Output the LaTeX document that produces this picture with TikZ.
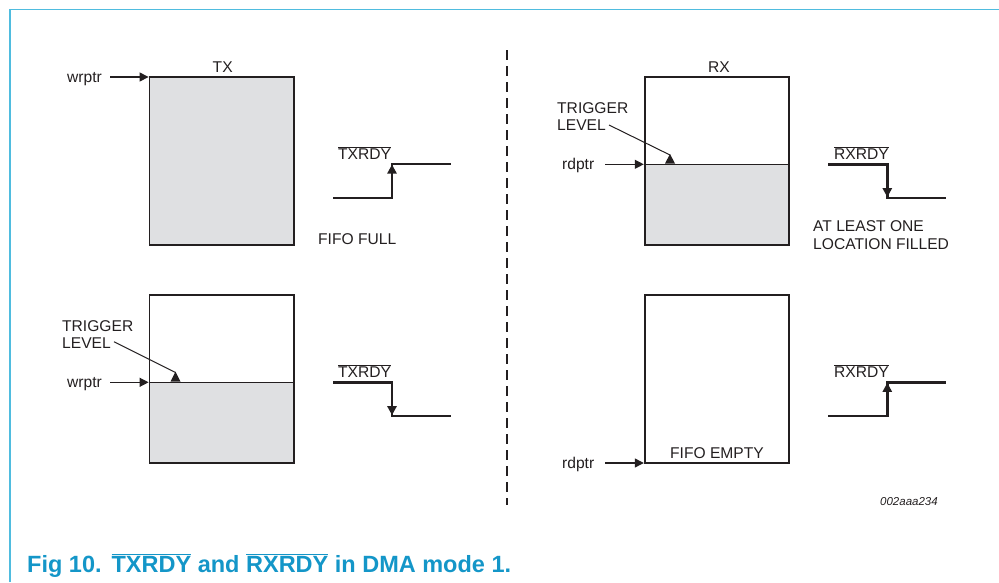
\documentclass[tikz,border=0pt]{standalone}
\usepackage{fontspec}
\setmainfont{Liberation Sans}
\usetikzlibrary{arrows.meta}
\definecolor{fifogray}{HTML}{DFE0E2}
\definecolor{frameblue}{HTML}{4FBCDF}
\definecolor{titleblue}{HTML}{1496C8}
\definecolor{ink}{HTML}{231F20}
\newcommand{\ovl}[1]{\ensuremath{\overline{\mbox{#1}}}}
\begin{document}
\begin{tikzpicture}[x=1pt,y=-1pt,
  lbl/.style={inner sep=0pt, font=\fontsize{15.6}{17}\selectfont, text=ink, anchor=base west},
  clbl/.style={inner sep=0pt, font=\fontsize{15.6}{17}\selectfont, text=ink, anchor=base},
  fifobox/.style={draw=ink, line width=1.8pt, inner sep=0pt, outer sep=0pt, minimum width=144.5pt, minimum height=168pt},
  divider/.style={draw=ink, line width=1.5pt},
  ptr/.style={draw=ink, line width=1.2pt, -{Triangle[length=9pt,width=9pt]}},
  sig/.style={draw=ink, line width=2.4pt, line cap=rect},
  sigarr/.style={draw=ink, line width=2.4pt, -{Triangle[length=9pt,width=9pt]}},
  lead/.style={draw=ink, line width=1pt},
  trig/.style={fill=ink},
]
\useasboundingbox (0,0) rectangle (999,582);
% frame
\draw[frameblue, line width=1.6pt] (10,582) -- (10,9.5) -- (999,9.5);

% ---------------- TX top (FIFO full)
\node[fifobox, fill=fifogray] (txa) at (221.75,161) {};
\node[clbl] (txlbl) at (222.7,72) {TX};
\node[lbl] (wpa) at (67,82) {wrptr};
\coordinate (wpa0) at (110,77);
\coordinate (wpa1) at (148.6,77);
\draw[ptr] (wpa0) -- (wpa1);
\node[lbl] (txrdya) at (338,159) {\ovl{TXRDY}};
\draw[sig] (334,198) -- (392,198) -- (392,164) -- (450,164);
\draw[sigarr] (392,198) -- (392,164.5);
\node[lbl] (full) at (318,244) {FIFO FULL};

% ---------------- TX bottom (trigger)
\fill[fifogray] (149.5,382.3) rectangle (294,463);
\node[fifobox] (txb) at (221.75,379) {};
\draw[divider] (149.5,382.3) -- (294,382.3);
\node[lbl] (trga) at (62,331) {TRIGGER};
\node[lbl] (lvla) at (62,348.3) {LEVEL};
\coordinate (lda) at (114,341.7);
\coordinate (tra) at (175.5,372.5);
\draw[lead] (lda) -- (tra);
\fill[trig] (170.5,381.5) -- (175.5,371.7) -- (180.5,381.5) -- cycle;
\node[lbl] (wpb) at (67,387.3) {wrptr};
\coordinate (wpb0) at (110,382.3);
\coordinate (wpb1) at (148.6,382.3);
\draw[ptr] (wpb0) -- (wpb1);
\node[lbl] (txrdyb) at (338,377) {\ovl{TXRDY}};
\draw[sig] (334,382.3) -- (392,382.3) -- (392,415.7) -- (450,415.7);
\draw[sigarr] (392,382.3) -- (392,415.2);

% ---------------- separator
\draw[ink, line width=2pt, dash pattern=on 10pt off 6pt] (507.3,50) -- (507.3,505);

% ---------------- RX top
\fill[fifogray] (644.7,164.3) rectangle (789.3,245);
\node[fifobox] (rxa) at (717,161) {};
\draw[divider] (644.7,164.3) -- (789.3,164.3);
\node[clbl] (rxlbl) at (719,72) {RX};
\node[lbl] (trgb) at (557,113) {TRIGGER};
\node[lbl] (lvlb) at (557,130.3) {LEVEL};
\coordinate (ldb) at (609,125);
\coordinate (trb) at (670,155);
\draw[lead] (ldb) -- (trb);
\fill[trig] (665,163.5) -- (670,154) -- (675,163.5) -- cycle;
\node[lbl] (rpa) at (562,169) {rdptr};
\coordinate (rpa0) at (605,164.3);
\coordinate (rpa1) at (643.8,164.3);
\draw[ptr] (rpa0) -- (rpa1);
\node[lbl] (rxrdya) at (834,159) {\ovl{RXRDY}};
\draw[sig] (829.3,164.3) -- (887.3,164.3) -- (887.3,197.7) -- (944.7,197.7);
\draw[sigarr] (887.3,164.3) -- (887.3,197.2);
\node[lbl] (least) at (813,231) {AT LEAST ONE};
\node[lbl] (filled) at (813,249) {LOCATION FILLED};

% ---------------- RX bottom
\node[fifobox] (rxb) at (717,379) {};
\node[clbl] (empty) at (717,458) {FIFO EMPTY};
\node[lbl] (rpb) at (562,468) {rdptr};
\coordinate (rpb0) at (605,463);
\coordinate (rpb1) at (643.8,463);
\draw[ptr] (rpb0) -- (rpb1);
\node[lbl] (rxrdyb) at (834,377) {\ovl{RXRDY}};
\draw[sig] (829.3,415.7) -- (887.3,415.7) -- (887.3,382.3) -- (944.7,382.3);
\draw[sigarr] (887.3,415.7) -- (887.3,382.8);

% id
\node[anchor=base west, inner sep=0pt, font=\fontsize{11.5}{13}\selectfont\itshape, text=ink] (fid) at (880,505.7) {002aaa234};

% title
\node[anchor=base west, inner sep=0pt, font=\fontsize{23.5}{26}\selectfont\bfseries, text=titleblue] (title) at (27,572) {Fig 10.\hspace{10pt}\ovl{TXRDY} and \ovl{RXRDY} in DMA mode 1.};
\end{tikzpicture}
\end{document}
